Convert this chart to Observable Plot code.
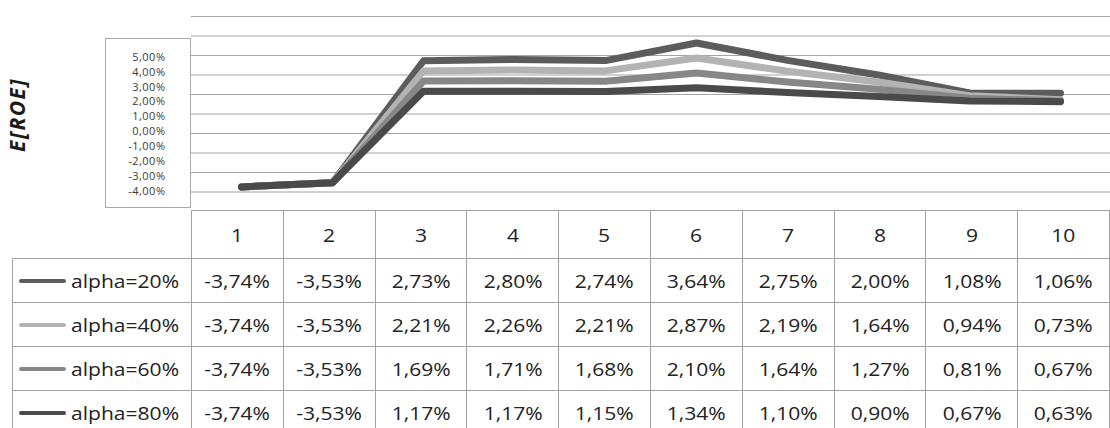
<!DOCTYPE html>
<html>
<head>
<meta charset="utf-8">
<script src="https://cdn.jsdelivr.net/npm/d3@7"></script>
<script src="https://cdn.jsdelivr.net/npm/@observablehq/plot@0.6"></script>
<style>
  html, body { margin: 0; padding: 0; background: #fff; }
  #wrap { position: relative; width: 1110px; height: 428px; overflow: hidden; font-family: "Open Sans", sans-serif; }
  #ybox { position: absolute; left: 105px; top: 38px; width: 84px; height: 168px; border: 1px solid #a9a9a9; background: #fff; }
  #tbl { position: absolute; left: 12px; top: 210px; border-collapse: collapse; table-layout: fixed; }
  #tbl td { border: 1px solid #a3a3a3; padding: 0; text-align: center; vertical-align: middle; font-size: 18px; color: #222; white-space: nowrap; }
  #tbl td.blank { border-top: none; border-left: none; }
  #tbl .s { display: inline-block; transform: scaleX(1.17); }
  #tbl .leg { display: flex; align-items: center; padding-left: 6px; }
  #tbl .sw { display: inline-block; width: 47px; height: 4px; border-radius: 2px; margin-right: 5px; }
  #tbl .leg .s { transform-origin: left center; }
  .ytitle { letter-spacing: 1.5px; }
</style>
</head>
<body>
<div id="wrap"></div>
<script>
// ---- data ----
const periods = [1, 2, 3, 4, 5, 6, 7, 8, 9, 10];
const seriesNames = ["alpha=20%", "alpha=40%", "alpha=60%", "alpha=80%"];
const alpha20 = [-3.74, -3.53, 2.73, 2.80, 2.74, 3.64, 2.75, 2.00, 1.08, 1.06];
const alpha40 = [-3.74, -3.53, 2.21, 2.26, 2.21, 2.87, 2.19, 1.64, 0.94, 0.73];
const alpha60 = [-3.74, -3.53, 1.69, 1.71, 1.68, 2.10, 1.64, 1.27, 0.81, 0.67];
const alpha80 = [-3.74, -3.53, 1.17, 1.17, 1.15, 1.34, 1.10, 0.90, 0.67, 0.63];
const gridTicks = [-4, -3, -2, -1, 0, 1, 2, 3, 4, 5];
const yTickLabels = [-4, -3, -2, -1, 0, 1, 2, 3, 4, 5];
const yTitle = "E[ROE]";
const seriesColors = ["#5c5c5c", "#b3b3b3", "#878787", "#4a4a4a"];

const seriesValues = [alpha20, alpha40, alpha60, alpha80];
const rows = [];
seriesNames.forEach((name, i) => periods.forEach((p, j) => rows.push({series: name, period: p, value: seriesValues[i][j]})));

const loc = d3.formatLocale({decimal: ",", thousands: ".", grouping: [3], currency: ["", "€"], minus: "-"});
const pct = v => loc.format(".2f")(v) + "%";

const wrap = document.getElementById("wrap");

// ---- main chart ----
const chart = Plot.plot({
  width: 1110, height: 211,
  marginLeft: 191, marginRight: 0, marginTop: 16, marginBottom: 0,
  style: {fontFamily: "Open Sans", background: "transparent"},
  x: {type: "point", domain: periods, padding: 0.5, axis: null},
  y: {domain: [-5, 5], axis: null},
  color: {domain: seriesNames, range: seriesColors},
  marks: [
    Plot.ruleY(gridTicks, {stroke: "#a3a3a3", strokeWidth: 1}),
    Plot.line(rows, {x: "period", y: "value", z: "series", stroke: "series", strokeWidth: 7, strokeLinecap: "round", strokeLinejoin: "round"}),
    Plot.text([yTitle], {frameAnchor: "left", textAnchor: "middle", dx: -173, dy: 1, rotate: -90, fontSize: 21, fontWeight: "bold", fontStyle: "italic", fill: "#1a1a1a", text: d => d, className: "ytitle"})
  ]
});
chart.style.position = "absolute";
chart.style.left = "0px";
chart.style.top = "0px";
wrap.appendChild(chart);

// ---- y label box (overlay) ----
const ybox = document.createElement("div");
ybox.id = "ybox";
wrap.appendChild(ybox);
const yaxis = Plot.plot({
  width: 84, height: 168,
  marginLeft: 61, marginRight: 23, marginTop: 17.7, marginBottom: 16.3,
  style: {fontFamily: "Open Sans", fontSize: "11px", color: "#3a3a3a", background: "transparent"},
  x: {axis: null},
  y: {domain: [-4, 5], axis: null},
  marks: [
    Plot.axisY(yTickLabels, {anchor: "left", tickSize: 0, tickPadding: 2, tickFormat: pct, fontSize: 11, fill: "#3a3a3a"})
  ]
});
yaxis.style.letterSpacing = "0.5px";
ybox.appendChild(yaxis);

// ---- data table ----
const tbl = document.createElement("table");
tbl.id = "tbl";
const cg = document.createElement("colgroup");
const c0 = document.createElement("col"); c0.style.width = "179px"; cg.appendChild(c0);
periods.forEach(() => { const c = document.createElement("col"); c.style.width = "91.9px"; cg.appendChild(c); });
tbl.appendChild(cg);
const hr = document.createElement("tr"); hr.style.height = "48px";
const blank = document.createElement("td"); blank.className = "blank"; hr.appendChild(blank);
periods.forEach(p => { const td = document.createElement("td"); td.innerHTML = `<span class="s">${p}</span>`; hr.appendChild(td); });
tbl.appendChild(hr);
seriesNames.forEach((name, i) => {
  const tr = document.createElement("tr"); tr.style.height = "44px";
  const td0 = document.createElement("td");
  td0.innerHTML = `<div class="leg"><span class="sw" style="background:${seriesColors[i]}"></span><span class="s">${name}</span></div>`;
  tr.appendChild(td0);
  seriesValues[i].forEach(v => { const td = document.createElement("td"); td.innerHTML = `<span class="s">${pct(v)}</span>`; tr.appendChild(td); });
  tbl.appendChild(tr);
});
wrap.appendChild(tbl);
</script>
</body>
</html>
